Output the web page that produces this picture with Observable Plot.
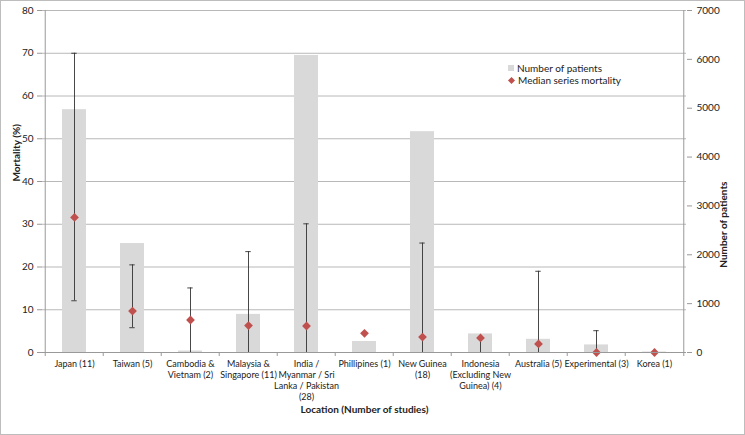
<!DOCTYPE html>
<html><head><meta charset="utf-8">
<script src="https://cdn.jsdelivr.net/npm/d3@7"></script>
<script src="https://cdn.jsdelivr.net/npm/@observablehq/plot@0.6"></script>
<style>
body{margin:0;background:#fff;}
#wrap{position:relative;width:745px;height:435px;font-family:Lato,sans-serif;}
#frame{position:absolute;left:0;top:0;width:745px;height:435px;box-sizing:border-box;border:1px solid #bdbdbd;pointer-events:none;}
.leg{position:absolute;font-size:10px;color:#222;line-height:12px;white-space:nowrap;}
.sw{display:inline-block;width:6px;height:6px;background:#d9d9d9;margin-right:3px;vertical-align:1px;}
.dm{display:inline-block;width:5px;height:5px;background:#c0504d;margin-right:4px;margin-left:1px;transform:rotate(45deg);vertical-align:1px;}
</style></head><body><div id="wrap"></div>
<script>
const locations = ["Japan (11)", "Taiwan (5)", "Cambodia & Vietnam (2)", "Malaysia & Singapore (11)", "India / Myanmar / Sri Lanka / Pakistan (28)", "Phillipines (1)", "New Guinea (18)", "Indonesia (Excluding New Guinea) (4)", "Australia (5)", "Experimental (3)", "Korea (1)"];
const tickLabels = ["Japan (11)", "Taiwan (5)", "Cambodia &\nVietnam (2)", "Malaysia &\nSingapore (11)", "India /\nMyanmar / Sri\nLanka / Pakistan\n(28)", "Phillipines (1)", "New Guinea\n(18)", "Indonesia\n(Excluding New\nGuinea) (4)", "Australia (5)", "Experimental (3)", "Korea (1)"];
const patients = [4970, 2230, 30, 780, 6080, 225, 4520, 380, 270, 155, 10];
const medianMortality = [31.6, 9.7, 7.6, 6.3, 6.2, 4.5, 3.6, 3.4, 2.0, 0, 0];
const mortalityLow = [12.1, 5.8, 0, 0, 0, null, 0, 0, 0, 0, null];
const mortalityHigh = [70, 20.5, 15.1, 23.6, 30.1, null, 25.6, 3.4, 19.0, 5.1, null];
const leftTicks = [0, 10, 20, 30, 40, 50, 60, 70, 80];
const rightTicks = [0, 1000, 2000, 3000, 4000, 5000, 6000, 7000];
const mortalityMax = 80, patientsMax = 7000;

const toLeft = v => v * mortalityMax / patientsMax;
const rows = locations.map((loc, i) => ({loc, patients: patients[i], median: medianMortality[i], low: mortalityLow[i], high: mortalityHigh[i]}));
const errs = rows.filter(d => d.low != null);

const W = 745, H = 435, mL = 42, mR = 59, mT = 10, mB = 83;
const step = (W - mL - mR) / locations.length;
const bw = step * 0.42;
const capInset = (bw - 6) / 2;
const grey = "#999";

const chart = Plot.plot({
  width: W, height: H, marginLeft: mL, marginRight: mR, marginTop: mT, marginBottom: mB,
  style: {fontFamily: "Lato, sans-serif", fontSize: "10px", color: "#222", background: "white", overflow: "visible"},
  x: {type: "band", domain: locations, paddingInner: 0.58, paddingOuter: 0.29},
  y: {domain: [0, mortalityMax]},
  marks: [
    Plot.ruleY(leftTicks.slice(1), {stroke: "#b8b8b8", strokeWidth: 1}),
    Plot.barY(rows, {x: "loc", y: d => toLeft(d.patients), fill: "#d9d9d9"}),
    Plot.ruleX(errs, {x: "loc", y1: "low", y2: "high", stroke: "#333", strokeWidth: 0.9}),
    Plot.tickY(errs, {x: "loc", y: "high", stroke: "#333", strokeWidth: 0.9, insetLeft: capInset, insetRight: capInset}),
    Plot.tickY(errs.filter(d => d.low > 0), {x: "loc", y: "low", stroke: "#333", strokeWidth: 0.9, insetLeft: capInset, insetRight: capInset}),
    Plot.dot(rows, {x: "loc", y: "median", symbol: "square", rotate: 45, r: 3.5, fill: "#c0504d", stroke: "none"}),
    Plot.ruleY([0], {stroke: grey}),
    Plot.ruleX([locations[0]], {x: d => d, y1: 0, y2: mortalityMax, dx: -step / 2, stroke: grey}),
    Plot.ruleX([locations[locations.length - 1]], {x: d => d, y1: 0, y2: mortalityMax, dx: step / 2, stroke: grey}),
    Plot.ruleX(locations, {x: d => d, y1: 0, y2: 0, dx: -step / 2, insetBottom: -4, stroke: grey}),
    Plot.ruleX([locations[locations.length - 1]], {x: d => d, y1: 0, y2: 0, dx: step / 2, insetBottom: -4, stroke: grey}),
    Plot.axisY(leftTicks, {anchor: "left", tickSize: 5, tickPadding: 4, stroke: grey, label: null, fontSize: 10}),
    Plot.axisY(rightTicks.map(toLeft), {anchor: "right", tickSize: 5, tickPadding: 5, stroke: grey, label: null, fontSize: 10,
      tickFormat: v => String(Math.round(v * patientsMax / mortalityMax))}),
    Plot.axisX({tickSize: 0, tickPadding: 6, label: null, fontSize: 9, lineHeight: 1.25, lineAnchor: "top",
      tickFormat: d => tickLabels[locations.indexOf(d)]}),
    Plot.text(["Mortality (%)"], {frameAnchor: "left", dx: -26, rotate: -90, fontWeight: "bold", fontSize: 10}),
    Plot.text(["Number of patients"], {frameAnchor: "right", dx: 37, rotate: -90, fontWeight: "bold", fontSize: 10}),
    Plot.text(["Location (Number of studies)"], {frameAnchor: "bottom", dy: 60, fontWeight: "bold", fontSize: 10})
  ]
});
const wrap = document.getElementById("wrap");
chart.style.position = "absolute"; chart.style.left = "0"; chart.style.top = "0";
wrap.appendChild(chart);
const leg = document.createElement("div");
leg.className = "leg"; leg.style.left = "508px"; leg.style.top = "62px";
leg.innerHTML = '<div><span class="sw"></span>Number of patients</div><div><span class="dm"></span>Median series mortality</div>';
wrap.appendChild(leg);
const fr = document.createElement("div"); fr.id = "frame"; wrap.appendChild(fr);
</script></body></html>
